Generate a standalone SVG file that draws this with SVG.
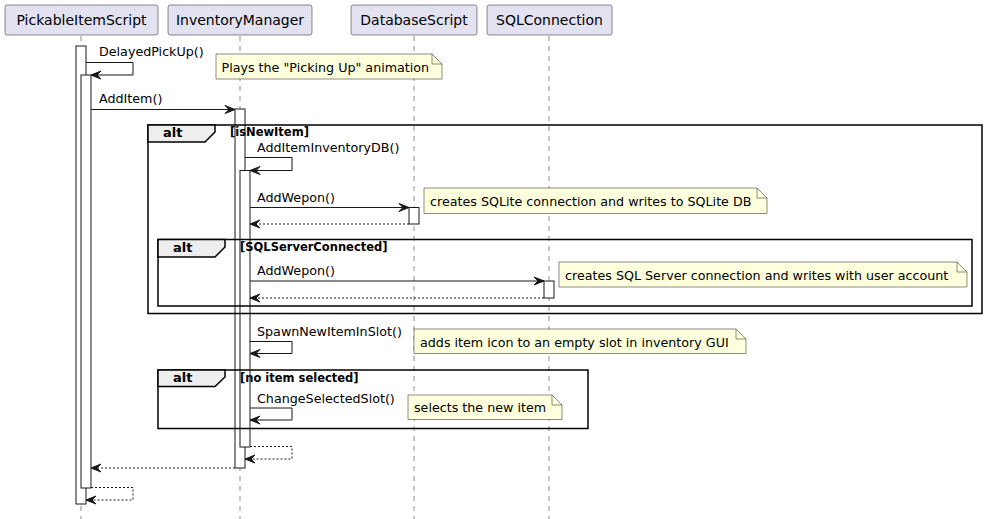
<svg xmlns="http://www.w3.org/2000/svg" width="986" height="519" viewBox="0 0 986 519">
<style>
text{font-family:"DejaVu Sans","Noto Sans",sans-serif;fill:#000}
.pbox{fill:#E2E2F0;stroke:#181818;stroke-width:0.5}
.ptxt{font-size:14px;text-anchor:middle}
.life{stroke:#181818;stroke-width:0.5;stroke-dasharray:5,5;fill:none}
.act{fill:#FFFFFF;stroke:#181818;stroke-width:1}
.msg{stroke:#181818;stroke-width:1;fill:none}
.ret{stroke:#181818;stroke-width:1;fill:none;stroke-dasharray:2,2}
.mtxt{font-size:12.7px}
.note{fill:#FEFFDD;stroke:#181818;stroke-width:0.5}
.fold{fill:none;stroke:#181818;stroke-width:0.5}
.frame{fill:none;stroke:#000;stroke-width:1.5}
.fhead{fill:#EEEEEE;stroke:#000;stroke-width:1.5}
.ftitle{font-size:13px;font-weight:bold}
.fcond{font-size:11.5px;font-weight:bold}
</style>
<defs>
<marker id="ah" markerUnits="userSpaceOnUse" markerWidth="11" markerHeight="9" refX="10" refY="4" orient="auto" overflow="visible">
<path d="M0,0 L10,4 L0,8 L4,4 Z" fill="#181818" stroke="#181818" stroke-width="1"/>
</marker>
</defs>
<rect width="986" height="519" fill="#FFFFFF"/>
<g id="lifelines">
<line class="life" x1="81" y1="36" x2="81" y2="519"/>
<line class="life" x1="240" y1="36" x2="240" y2="519"/>
<line class="life" x1="414" y1="36" x2="414" y2="519"/>
<line class="life" x1="549" y1="36" x2="549" y2="519"/>
</g>
<g id="PickableItemScript">
<rect class="pbox" x="5" y="5" width="153" height="30" rx="2.5"/>
<text class="ptxt" x="81.5" y="25">PickableItemScript</text>
</g>
<g id="InventoryManager">
<rect class="pbox" x="168" y="5" width="144" height="30" rx="2.5"/>
<text class="ptxt" x="240" y="25">InventoryManager</text>
</g>
<g id="DatabaseScript">
<rect class="pbox" x="351" y="5" width="126" height="30" rx="2.5"/>
<text class="ptxt" x="414" y="25">DatabaseScript</text>
</g>
<g id="SQLConnection">
<rect class="pbox" x="487" y="5" width="125" height="30" rx="2.5"/>
<text class="ptxt" x="549.5" y="25">SQLConnection</text>
</g>
<g id="activations">
<rect class="act" x="76" y="46" width="10" height="458"/>
<rect class="act" x="81" y="75" width="10" height="413"/>
<rect class="act" x="235" y="109" width="10" height="359"/>
<rect class="act" x="240" y="170.5" width="10" height="276.5"/>
<rect class="act" x="409" y="207.5" width="10" height="16.5"/>
<rect class="act" x="544" y="281" width="10" height="17"/>
</g>
<g id="alt-isNewItem">
<rect class="frame" x="148" y="125" width="834" height="188.5"/>
<path class="fhead" d="M148,125 H215 V132 L205,142 H148 Z"/>
<text class="ftitle" x="163" y="137">alt</text>
<text class="fcond" x="230" y="136">[isNewItem]</text>
</g>
<g id="alt-SQLServerConnected">
<rect class="frame" x="158" y="239.5" width="814" height="66.5"/>
<path class="fhead" d="M158,239.5 H225 V247 L215,257 H158 Z"/>
<text class="ftitle" x="173" y="252">alt</text>
<text class="fcond" x="240" y="251">[SQLServerConnected]</text>
</g>
<g id="alt-no-item-selected">
<rect class="frame" x="158" y="370" width="430" height="58.5"/>
<path class="fhead" d="M158,370 H225 V377 L215,386.5 H158 Z"/>
<text class="ftitle" x="173" y="382">alt</text>
<text class="fcond" x="240" y="382">[no item selected]</text>
</g>
<g id="note-picking-up">
<path class="note" d="M216,54 H432 L442,64 V79 H216 Z"/>
<path class="fold" d="M432,54 V64 H442"/>
<text class="mtxt" x="221.5" y="72">Plays the "Picking Up" animation</text>
</g>
<g id="note-sqlite">
<path class="note" d="M424,188 H757 L767,198 V213.5 H424 Z"/>
<path class="fold" d="M757,188 V198 H767"/>
<text class="mtxt" x="430" y="206">creates SQLite connection and writes to SQLite DB</text>
</g>
<g id="note-sqlserver">
<path class="note" d="M559,262 H957 L967,272 V287 H559 Z"/>
<path class="fold" d="M957,262 V272 H967"/>
<text class="mtxt" x="565" y="280">creates SQL Server connection and writes with user account</text>
</g>
<g id="note-spawn">
<path class="note" d="M414,329 H736 L746,339 V353.5 H414 Z"/>
<path class="fold" d="M736,329 V339 H746"/>
<text class="mtxt" x="420" y="347">adds item icon to an empty slot in inventory GUI</text>
</g>
<g id="note-selects">
<path class="note" d="M408,395 H552 L562,405 V419.5 H408 Z"/>
<path class="fold" d="M552,395 V405 H562"/>
<text class="mtxt" x="414" y="412">selects the new item</text>
</g>
<g id="connectors">
<path class="msg" d="M86,62.5 H133 V75 H91" marker-end="url(#ah)"/>
<text class="mtxt" x="99" y="56">DelayedPickUp()</text>
<path class="msg" d="M91,109.5 H235" marker-end="url(#ah)"/>
<text class="mtxt" x="99" y="103">AddItem()</text>
<path class="msg" d="M245,157.5 H292 V170.5 H250" marker-end="url(#ah)"/>
<text class="mtxt" x="257" y="152">AddItemInventoryDB()</text>
<path class="msg" d="M250,207.5 H409" marker-end="url(#ah)"/>
<text class="mtxt" x="257" y="202">AddWepon()</text>
<path class="ret" d="M409,224 H250" marker-end="url(#ah)"/>
<path class="msg" d="M250,281 H544" marker-end="url(#ah)"/>
<text class="mtxt" x="257" y="275">AddWepon()</text>
<path class="ret" d="M544,298 H250" marker-end="url(#ah)"/>
<path class="msg" d="M250,341.5 H292 V353.5 H250" marker-end="url(#ah)"/>
<text class="mtxt" x="257" y="336">SpawnNewItemInSlot()</text>
<path class="msg" d="M250,408 H292 V420 H250" marker-end="url(#ah)"/>
<text class="mtxt" x="257" y="403">ChangeSelectedSlot()</text>
<path class="ret" d="M250,446.5 H292 V459 H245" marker-end="url(#ah)"/>
<path class="ret" d="M235,468 H91" marker-end="url(#ah)"/>
<path class="ret" d="M91,487.5 H133 V500 H86" marker-end="url(#ah)"/>
</g>
</svg>
